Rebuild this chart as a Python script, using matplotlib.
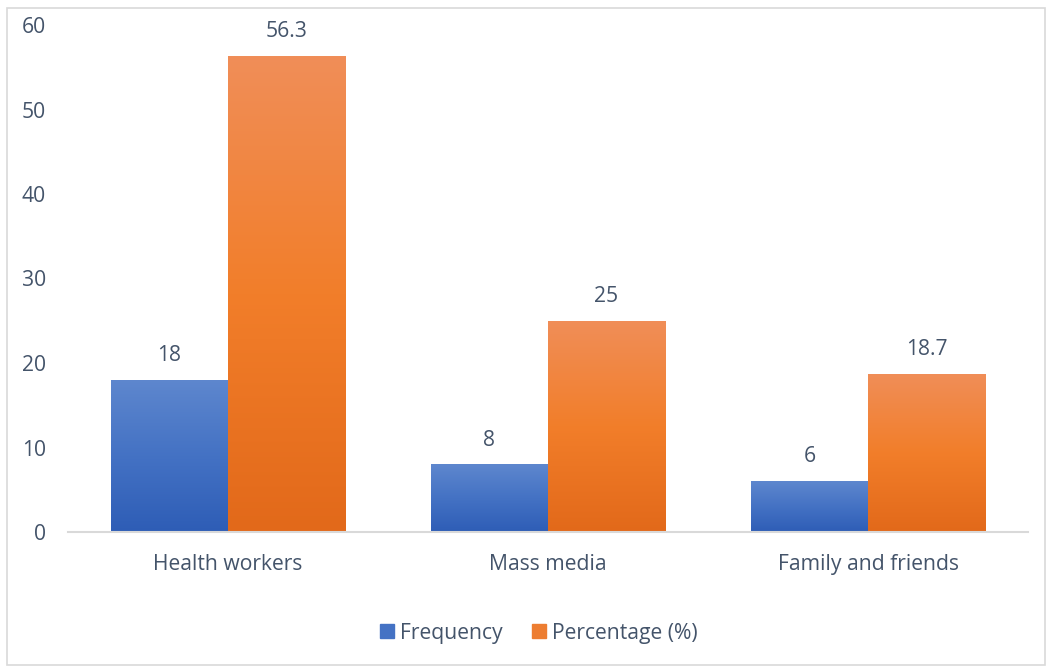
import numpy as np
import matplotlib.pyplot as plt
from matplotlib.colors import LinearSegmentedColormap
from matplotlib.patches import Rectangle

categories = ['Health workers', 'Mass media', 'Family and friends']
frequency = [18, 8, 6]
percentage = [56.3, 25, 18.7]
series_names = ['Frequency', 'Percentage (%)']

plt.rcParams['font.family'] = ['Open Sans', 'DejaVu Sans']
txt = '#44546A'
fs = 15.2

blue = LinearSegmentedColormap.from_list('b', ['#2E5DB6', '#4472C4', '#5E87CE'])
orange = LinearSegmentedColormap.from_list('o', ['#E2691A', '#F27E2A', '#F08E58'])

fig = plt.figure(figsize=(10.48, 6.67), dpi=100)
fig.patches.append(Rectangle((7/1048, 2/667), 1038/1048, 657/667, transform=fig.transFigure,
                             fill=False, edgecolor='#D9D9D9', lw=1.2))
ax = fig.add_axes([68/1048, 1-532/667, 960/1048, 507/667])

x = np.arange(len(categories))
w = 0.366
grad = np.linspace(0, 1, 256).reshape(-1, 1)

def gbar(xs, vals, cmap, label):
    bars = ax.bar(xs, vals, w, color='none', label=label)
    for b, v in zip(bars, vals):
        x0 = b.get_x()
        im = ax.imshow(grad, cmap=cmap, origin='lower', aspect='auto',
                       extent=(x0, x0 + w, 0, v), zorder=2)
        im.set_clip_path(b)
        ax.annotate(f'{v:g}', (x0 + w/2, v), xytext=(0, 10), textcoords='offset points',
                    ha='center', va='bottom', fontsize=fs, color=txt)
    return bars

gbar(x - w/2, frequency, blue, series_names[0])
gbar(x + w/2, percentage, orange, series_names[1])

ax.set_xlim(-0.5, 2.5)
ax.set_ylim(0, 60)
ax.set_yticks(range(0, 61, 10))
ax.set_xticks(x)
ax.set_xticklabels(categories)
ax.tick_params(length=0, labelsize=fs, labelcolor=txt)
ax.tick_params(axis='x', pad=16)
ax.tick_params(axis='y', pad=16)
for s in ['top', 'right', 'left']:
    ax.spines[s].set_visible(False)
ax.spines['bottom'].set_color('#D9D9D9')
ax.spines['bottom'].set_linewidth(1.5)

handles = [Rectangle((0, 0), 1, 1, color='#4472C4'), Rectangle((0, 0), 1, 1, color='#ED7D31')]
fig.legend(handles, series_names, loc='center', bbox_to_anchor=(539/1048, 1-633/667), ncol=2,
           frameon=False, fontsize=fs, labelcolor=txt, handlelength=0.65, handleheight=0.65,
           handletextpad=0.3, columnspacing=1.4)

fig.savefig('out.png')
